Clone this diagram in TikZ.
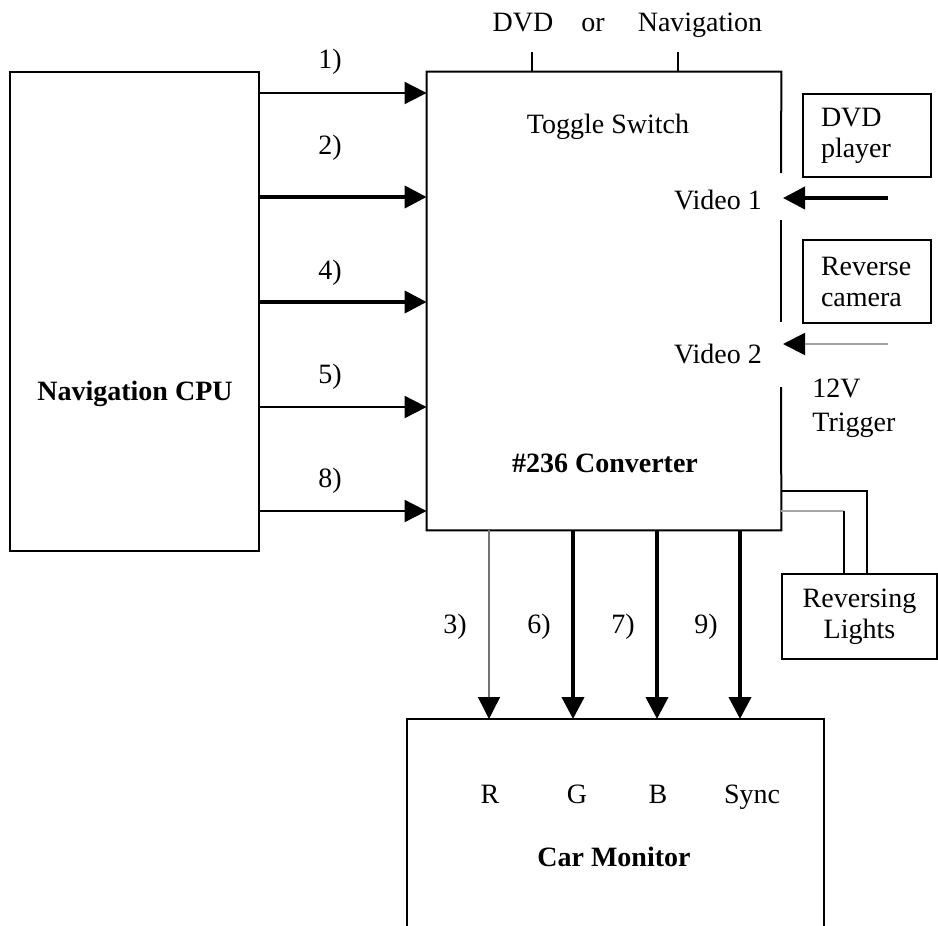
\documentclass[tikz,border=0pt]{standalone}
\usepackage{fontspec}
\setmainfont{Liberation Serif}
\usetikzlibrary{arrows.meta}
\begin{document}
\begin{tikzpicture}[x=0.5pt,y=-0.5pt,
  font=\fontsize{14}{15.5}\selectfont,
  boxline/.style={line width=1pt},
  thinw/.style={line width=1pt},
  thickw/.style={line width=2pt},
  grayw/.style={line width=0.7pt, black!55},
  lgrayw/.style={line width=1pt, black!35},
  arr/.style={-{Triangle[length=11pt,width=11pt,color=black]}},
  lbl/.style={inner sep=0pt},
  bold/.style={font=\fontsize{14}{15.5}\selectfont\bfseries},
  srcbox/.style={draw, line width=1pt, minimum width=64pt, minimum height=41.5pt,
     text width=46pt, inner xsep=9pt, align=left, anchor=north west}
]
\useasboundingbox (0,0) rectangle (938,926);

% Navigation CPU
\node[draw, boxline, minimum width=124.5pt, minimum height=239.5pt, inner sep=0pt] (cpu) at (134.5,311.5) {};
\node[lbl, bold] (cpulbl) at (135,394) {Navigation CPU};

% Converter (border drawn with gaps)
\node[minimum width=177pt, minimum height=229pt, inner sep=0pt] (conv) at (604,301) {};
\draw[boxline] (781,173) -- (conv.north east) -- (conv.north west) -- (conv.south west) -- (conv.south east) -- (781,387);
\draw[boxline] (781,220) -- (781,322);
\node[lbl] (toggle) at (608,127) {Toggle Switch};
\node[lbl] (v1) at (718,200) {Video 1};
\node[lbl] (v2) at (718,354) {Video 2};
\node[lbl, bold] (convlbl) at (605,463) {\#236 Converter};

% top labels
\node[lbl, anchor=base] (tdvd) at (523,32) {DVD};
\node[lbl, anchor=base] (tor) at (593,32) {or};
\node[lbl, anchor=base] (tnav) at (700,32) {Navigation};
\coordinate (tk1) at (532,52);
\coordinate (tk2) at (678,52);
\draw[thinw] (tk1) -- (tk1 |- conv.north);
\draw[thinw] (tk2) -- (tk2 |- conv.north);

% sources on the right
\node[srcbox] (dvdp) at (802,93) {DVD\\player};
\node[srcbox] (revc) at (802,239) {Reverse\\camera};
\coordinate (s1) at (888,198);
\coordinate (s2) at (888,344);
\draw[thickw, arr] (s1) -- (783,198);
\draw[lgrayw, arr] (s2) -- (783,344);
\node[lbl, align=left, anchor=west] (trig) at (812,408) {12V\\[1.5pt]Trigger};

% Reversing lights
\node[draw, boxline, minimum width=77.5pt, minimum height=42.5pt, align=center, anchor=north west] (rev) at (781,573) {Reversing\\Lights};
\coordinate (r1) at (781,491);
\coordinate (r2) at (781,511);
\draw[thinw] (r1) -- (867,491) -- (867,573);
\draw[lgrayw] (r2) -- (844,511);
\draw[thinw] (844,510.5) -- (844,573);

% left arrows
\foreach \yy/\ly/\st/\tx [count=\i] in {93/62/thinw/1), 197/148/thickw/2), 302/273/thickw/4), 407/377/thinw/5), 511/481/thinw/8)} {
  \coordinate (la\i) at (259,\yy);
  \draw[\st, arr] (la\i) -- (la\i -| conv.west);
  \node[lbl] (ll\i) at (330,\ly) {\tx};
}

% Car Monitor (open at bottom)
\coordinate (mtl) at (407,719);
\coordinate (mtr) at (824,719);
\draw[boxline] (407,930) -- (mtl) -- (mtr) -- (824,930);
\node[lbl, anchor=base] (mR) at (490,803) {R};
\node[lbl, anchor=base] (mG) at (577,803) {G};
\node[lbl, anchor=base] (mB) at (658,803) {B};
\node[lbl, anchor=base] (mS) at (752,803) {Sync};
\node[lbl, bold] (monlbl) at (614,857) {Car Monitor};

% bottom arrows
\foreach \xx/\st/\tx [count=\i] in {489/grayw/3), 573/thickw/6), 657/thickw/7), 740/thickw/9)} {
  \coordinate (ba\i) at (\xx,530);
  \draw[\st, arr] (ba\i) -- (ba\i |- mtl);
  \node[lbl] (bl\i) at (\xx-34,627) {\tx};
}
\end{tikzpicture}
\end{document}
